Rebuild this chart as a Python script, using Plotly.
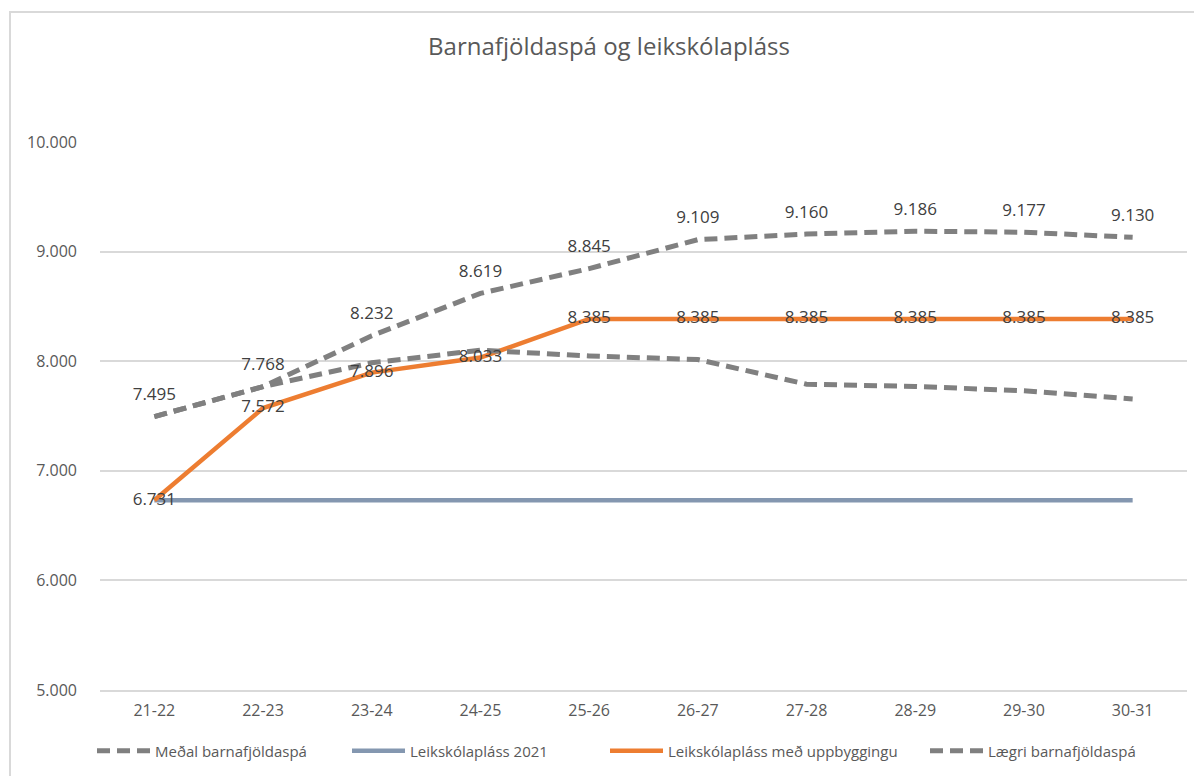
import plotly.graph_objects as go

categories = ["21-22", "22-23", "23-24", "24-25", "25-26", "26-27", "27-28", "28-29", "29-30", "30-31"]
medal = [7495, 7768, 8232, 8619, 8845, 9109, 9160, 9186, 9177, 9130]
plass_2021 = [6731] * 10
plass_upp = [6731, 7572, 7896, 8033, 8385, 8385, 8385, 8385, 8385, 8385]
laegri = [7495, 7768, 7985, 8100, 8048, 8015, 7790, 7770, 7730, 7655]

names = ["Meðal barnafjöldaspá", "Leikskólapláss 2021", "Leikskólapláss með uppbyggingu", "Lægri barnafjöldaspá"]


def fmt(v):
    return f"{v:,}".replace(",", ".")


GRAY = "#808080"
BLUE = "#8497b0"
ORANGE = "#ed7d31"
DASH = "13px,7px"
FONT = "Open Sans"

fig = go.Figure()
fig.add_trace(go.Scatter(x=categories, y=medal, mode="lines", name=names[0], legend="legend",
                         line=dict(color=GRAY, width=5, dash=DASH)))
fig.add_trace(go.Scatter(x=categories, y=plass_2021, mode="lines", name=names[1], legend="legend2",
                         line=dict(color=BLUE, width=4.5)))
fig.add_trace(go.Scatter(x=categories, y=plass_upp, mode="lines", name=names[2], legend="legend3",
                         line=dict(color=ORANGE, width=4.5)))
fig.add_trace(go.Scatter(x=categories, y=laegri, mode="lines", name=names[3], legend="legend4",
                         line=dict(color=GRAY, width=5, dash=DASH)))

# data labels on top of all lines
fig.add_trace(go.Scatter(x=categories, y=medal, mode="markers+text", showlegend=False,
                         text=[fmt(v) for v in medal], textposition="top center",
                         marker=dict(size=18, opacity=0), hoverinfo="skip",
                         textfont=dict(family=FONT, size=17, color="#404040")))
fig.add_trace(go.Scatter(x=categories, y=plass_upp, mode="text", showlegend=False,
                         text=[fmt(v) for v in plass_upp], textposition="middle center",
                         hoverinfo="skip",
                         textfont=dict(family=FONT, size=17, color="#404040")))

# page body has an 8px margin; plot area target in page coords: x 100..1187, y 142..690
PW = 1087.0
PH = 548.0
leg_common = dict(orientation="h", xanchor="left", yanchor="middle", y=(690 - 751) / PH,
                  font=dict(family=FONT, size=15, color="#595959"), itemwidth=53,
                  bgcolor="rgba(0,0,0,0)")
leg_x = [92, 347, 605, 925]

fig.update_layout(
    width=1202, height=776,
    margin=dict(l=92, r=23, t=134, b=94, autoexpand=False),
    paper_bgcolor="white", plot_bgcolor="white",
    separators=",.",
    title=dict(text="Barnafjöldaspá og leikskólapláss", x=(609 - 100) / PW, xref="paper",
               xanchor="center", y=1 - 39 / 776, yanchor="middle",
               font=dict(family=FONT, size=24, color="#595959")),
    font=dict(family=FONT, color="#595959"),
    legend=dict(x=(leg_x[0] - 100) / PW, **leg_common),
    legend2=dict(x=(leg_x[1] - 100) / PW, **leg_common),
    legend3=dict(x=(leg_x[2] - 100) / PW, **leg_common),
    legend4=dict(x=(leg_x[3] - 100) / PW, **leg_common),
    showlegend=True,
)
fig.update_xaxes(range=[-0.5, len(categories) - 0.5], showgrid=False, showline=True,
                 linecolor="#d9d9d9", linewidth=1.5,
                 ticks="", tickfont=dict(size=16, color="#595959"), ticklabelstandoff=5,
                 automargin=False)
fig.update_yaxes(range=[5000, 10000], dtick=1000, tickformat=",.0f",
                 showgrid=True, gridcolor="#d9d9d9", gridwidth=1.5, zeroline=False,
                 tickfont=dict(size=16, color="#595959"), ticklabelstandoff=22,
                 automargin=False)

# outer chart border
fig.add_shape(type="rect", xref="paper", yref="paper",
              x0=(10 - 100) / PW, x1=(1215 - 100) / PW,
              y0=(690 - 800) / PH, y1=(690 - 12) / PH,
              line=dict(color="#d9d9d9", width=2), layer="below")

fig.write_html("out.html")
